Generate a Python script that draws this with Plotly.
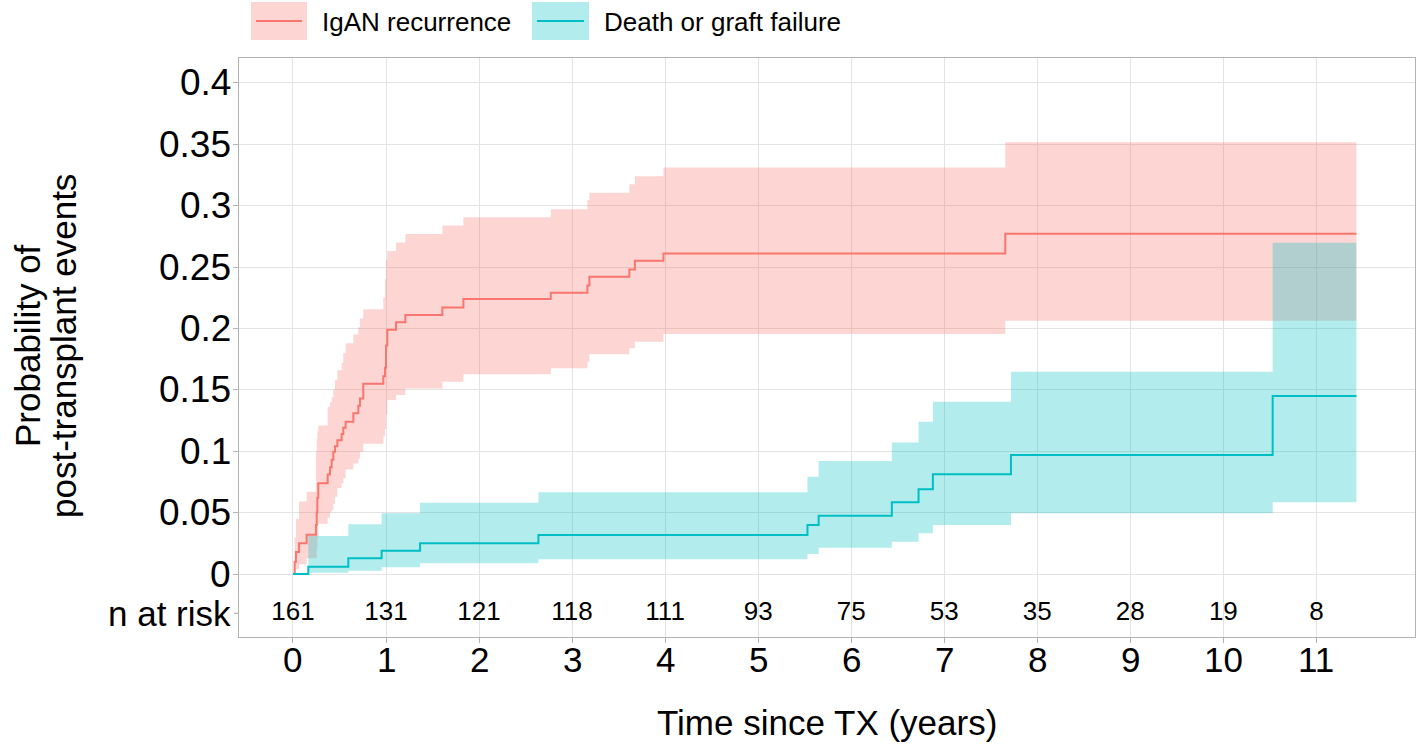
import plotly.graph_objects as go

# ---------------- data ----------------
time_igan = [0, 0.018, 0.032, 0.065, 0.147, 0.247, 0.255, 0.262, 0.272, 0.373, 0.398, 0.416,
             0.434, 0.452, 0.477, 0.523, 0.541, 0.566, 0.649, 0.703, 0.720, 0.756, 0.971,
             0.989, 1.000, 1.014, 1.108, 1.208, 1.606, 1.832, 2.771, 3.165, 3.186, 3.616,
             3.675, 3.982, 7.656, 11.43]
est_igan = [0, 0.010, 0.018, 0.025, 0.032, 0.040, 0.050, 0.062, 0.074, 0.081, 0.087, 0.093,
            0.0996, 0.104, 0.109, 0.114, 0.119, 0.124, 0.131, 0.137, 0.143, 0.155, 0.161,
            0.168, 0.186, 0.199, 0.205, 0.211, 0.217, 0.224, 0.229, 0.235, 0.242, 0.248,
            0.255, 0.261, 0.277, 0.277]
lo_igan = [0, 0.000, 0.004, 0.008, 0.0128, 0.0128, 0.020, 0.030, 0.041, 0.046, 0.050, 0.052,
           0.057, 0.063, 0.070, 0.074, 0.078, 0.085, 0.090, 0.094, 0.0996, 0.106, 0.112,
           0.118, 0.130, 0.1417, 0.1458, 0.151, 0.1566, 0.1626, 0.1675, 0.173, 0.1789, 0.1838,
           0.1892, 0.1954, 0.2063, 0.2063]
hi_igan = [0, 0.030, 0.045, 0.059, 0.067, 0.100, 0.110, 0.116, 0.121, 0.136, 0.140, 0.144,
           0.150, 0.158, 0.166, 0.172, 0.180, 0.188, 0.195, 0.201, 0.208, 0.2156, 0.225,
           0.240, 0.2557, 0.263, 0.270, 0.2769, 0.2837, 0.2905, 0.297, 0.3046, 0.3105, 0.3173,
           0.324, 0.331, 0.3516, 0.3516]

time_death = [0, 0.165, 0.595, 0.953, 1.366, 2.638, 5.53, 5.65, 6.437, 6.724, 6.878, 7.717, 10.53, 11.43]
est_death = [0, 0.0059, 0.0128, 0.019, 0.025, 0.0318, 0.0399, 0.0475, 0.0584, 0.069, 0.0812, 0.0969, 0.145, 0.145]
lo_death = [0, 0.001, 0.0027, 0.0055, 0.0087, 0.012, 0.0163, 0.0214, 0.0263, 0.0331, 0.0399, 0.0494, 0.0584, 0.0584]
hi_death = [0, 0.031, 0.0405, 0.0494, 0.058, 0.0665, 0.0792, 0.092, 0.107, 0.124, 0.1403, 0.1647, 0.2698, 0.2698]

risk_years = [0, 1, 2, 3, 4, 5, 6, 7, 8, 9, 10, 11]
n_at_risk = [161, 131, 121, 118, 111, 93, 75, 53, 35, 28, 19, 8]
risk_row_y = -0.032

y_ticks = [0, 0.05, 0.1, 0.15, 0.2, 0.25, 0.3, 0.35, 0.4]
y_labels = ["0", "0.05", "0.1", "0.15", "0.2", "0.25", "0.3", "0.35", "0.4"]

series_names = ["IgAN recurrence", "Death or graft failure"]
line_colors = ["#F8766D", "#00BFC4"]
fill_colors = ["rgba(248,118,109,0.3)", "rgba(0,191,196,0.3)"]

FONT = "Liberation Sans, Arial, sans-serif"

fig = go.Figure()

series = [(time_igan, est_igan, lo_igan, hi_igan), (time_death, est_death, lo_death, hi_death)]

# confidence bands
for (t, e, lo, hi), fc in zip(series, fill_colors):
    fig.add_trace(go.Scatter(x=t, y=lo, mode="lines", line=dict(width=0, shape="hv"),
                             hoverinfo="skip", showlegend=False))
    fig.add_trace(go.Scatter(x=t, y=hi, mode="lines", line=dict(width=0, shape="hv"),
                             fill="tonexty", fillcolor=fc, hoverinfo="skip", showlegend=False))

# estimates
for (t, e, lo, hi), lc, nm in zip(series, line_colors, series_names):
    fig.add_trace(go.Scatter(x=t, y=e, mode="lines", name=nm,
                             line=dict(color=lc, width=2, shape="hv"), showlegend=False))

# numbers at risk
fig.add_trace(go.Scatter(x=risk_years, y=[risk_row_y] * len(risk_years), mode="text",
                         text=[str(v) for v in n_at_risk],
                         textfont=dict(family=FONT, size=26, color="black"),
                         hoverinfo="skip", showlegend=False))

W, H = 1416, 746
L, R, T, B = 239, 1, 58, 109
pw, ph = W - L - R, H - T - B


def px_x(px):
    return (px - L) / pw


def px_y(py):
    return (H - B - py) / ph


shapes = []
annotations = []

# custom legend
leg_items = [(251, 307, 320), (532, 589, 602)]
for (x0, x1, tx), nm, lc, fc in zip(leg_items, series_names, line_colors, fill_colors):
    shapes.append(dict(type="rect", xref="paper", yref="paper",
                       x0=px_x(x0), x1=px_x(x1), y0=px_y(40), y1=px_y(2),
                       fillcolor=fc, line=dict(width=0), layer="above"))
    shapes.append(dict(type="line", xref="paper", yref="paper",
                       x0=px_x(x0 + 5), x1=px_x(x1 - 5), y0=px_y(21), y1=px_y(21),
                       line=dict(color=lc, width=2), layer="above"))
    annotations.append(dict(text=nm, xref="paper", yref="paper", x=px_x(tx), y=px_y(22),
                            xanchor="left", yanchor="middle", showarrow=False,
                            font=dict(family=FONT, size=26, color="black")))

# y tick labels
for v, lab in zip(y_ticks, y_labels):
    annotations.append(dict(text=lab, xref="paper", yref="y", x=0, y=v,
                            xanchor="right", yanchor="middle", xshift=-6, showarrow=False,
                            font=dict(family=FONT, size=37, color="black")))

# x tick labels
for v in risk_years:
    annotations.append(dict(text=str(v), xref="x", yref="paper", x=v, y=px_y(659),
                            xanchor="center", yanchor="middle", showarrow=False,
                            font=dict(family=FONT, size=35, color="black")))

# "n at risk" label and its tick
annotations.append(dict(text="n at risk", xref="paper", yref="y", x=0, y=risk_row_y,
                        xanchor="right", yanchor="middle", xshift=-6, showarrow=False,
                        font=dict(family=FONT, size=35, color="black")))
shapes.append(dict(type="line", xref="paper", yref="y", xsizemode="pixel", xanchor=0,
                   x0=-5, x1=0, y0=risk_row_y, y1=risk_row_y,
                   line=dict(color="#B3B3B3", width=1.2)))

# axis titles
annotations.append(dict(text="Time since TX (years)", xref="paper", yref="paper",
                        x=0.5, y=px_y(722), xanchor="center", yanchor="middle",
                        showarrow=False, font=dict(family=FONT, size=35, color="black")))
annotations.append(dict(text="Probability of", xref="paper", yref="paper",
                        x=px_x(27), y=px_y(346), xanchor="center", yanchor="middle",
                        textangle=-90, showarrow=False,
                        font=dict(family=FONT, size=35, color="black")))
annotations.append(dict(text="post-transplant events", xref="paper", yref="paper",
                        x=px_x(63), y=px_y(346), xanchor="center", yanchor="middle",
                        textangle=-90, showarrow=False,
                        font=dict(family=FONT, size=35, color="black")))

fig.update_layout(
    width=W, height=H,
    margin=dict(l=L, r=R, t=T, b=B, pad=0),
    paper_bgcolor="white", plot_bgcolor="white",
    showlegend=False, hovermode=False,
    shapes=shapes, annotations=annotations,
    font=dict(family=FONT, color="black"),
)
fig.update_xaxes(range=[-0.58, 12.06], tickmode="array", tickvals=risk_years,
                 showticklabels=False,
                 showgrid=True, gridcolor="#E3E3E3", gridwidth=1,
                 zeroline=False, showline=True, mirror=True, linecolor="#B3B3B3", linewidth=1.3,
                 ticks="outside", ticklen=5, tickcolor="#B3B3B3", tickwidth=1.2)
fig.update_yaxes(range=[-0.0513, 0.4202], tickmode="array", tickvals=y_ticks,
                 showticklabels=False,
                 showgrid=True, gridcolor="#E3E3E3", gridwidth=1,
                 zeroline=False, showline=True, mirror=True, linecolor="#B3B3B3", linewidth=1.3,
                 ticks="outside", ticklen=5, tickcolor="#B3B3B3", tickwidth=1.2)

fig.write_html("out.html", config={"displayModeBar": False},
               post_script="document.body.style.margin='0';")
